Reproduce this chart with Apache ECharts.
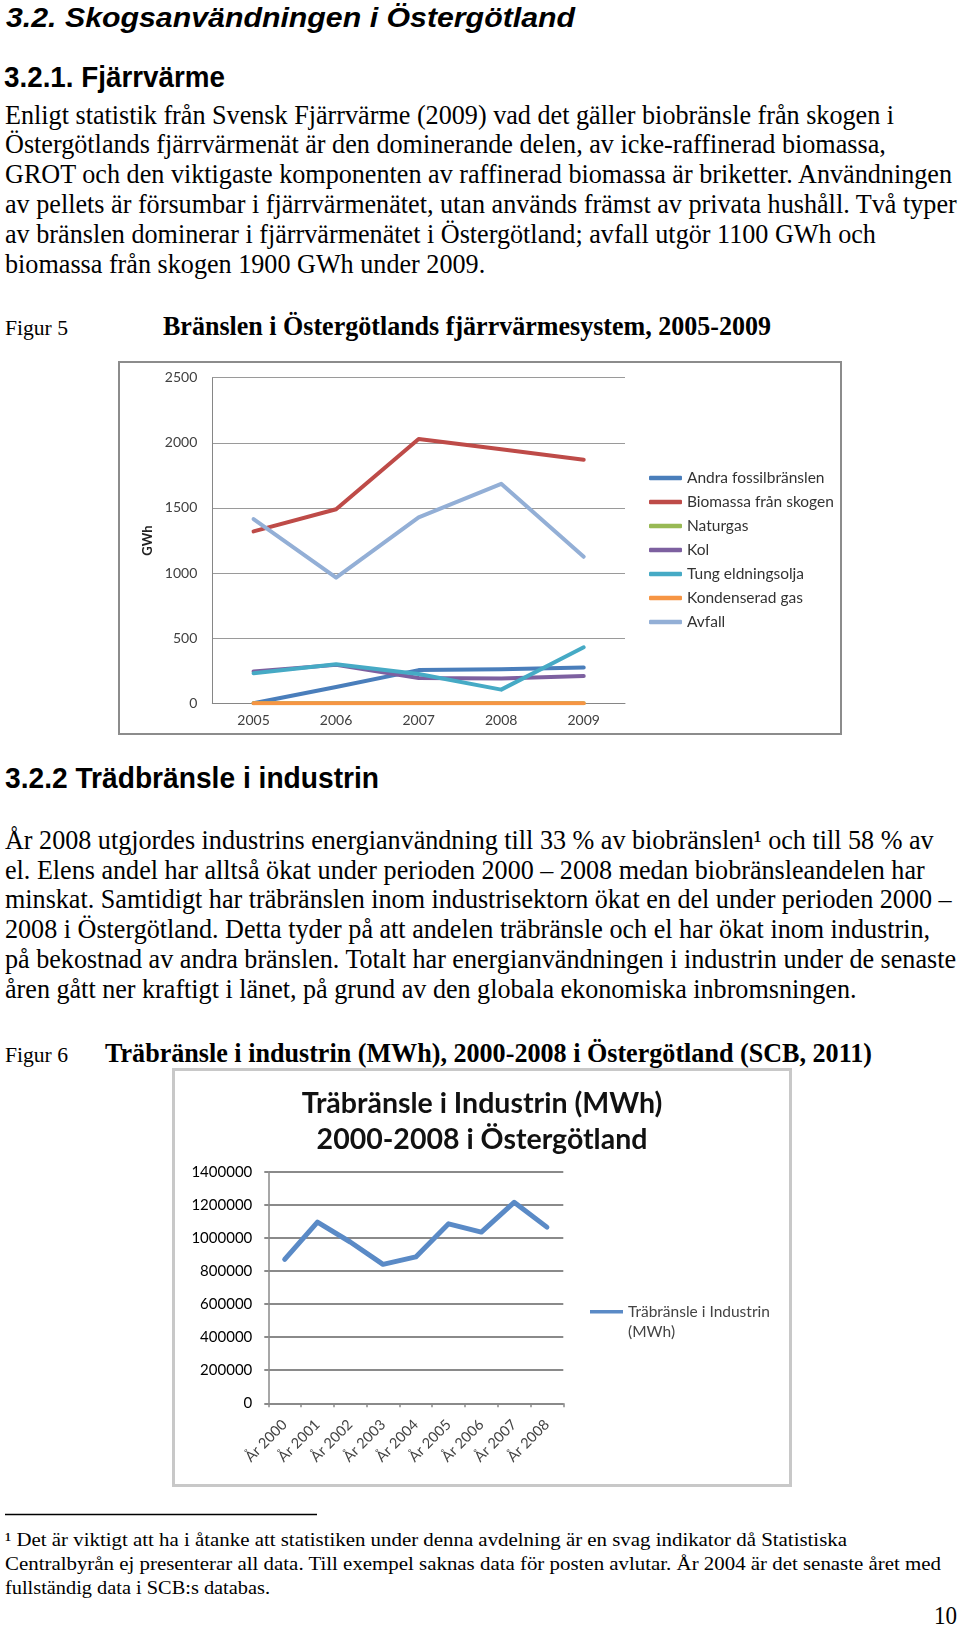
<!DOCTYPE html>
<html><head><meta charset="utf-8">
<script src="https://cdn.jsdelivr.net/npm/echarts@6/dist/echarts.min.js"></script>
<style>
html,body{margin:0;padding:0;background:#fff;width:960px;height:1628px;overflow:hidden;}
#txt{position:absolute;left:0;top:0;}
#c1{position:absolute;left:118px;top:361px;width:724px;height:374px;}
#f1{position:absolute;left:118px;top:361px;width:724px;height:374px;box-sizing:border-box;border:2px solid #8c8c8c;pointer-events:none;}
#c2{position:absolute;left:172px;top:1068px;width:620px;height:419px;}
#f2{position:absolute;left:172px;top:1068px;width:620px;height:419px;box-sizing:border-box;border:3px solid #c8c8c8;pointer-events:none;}
</style></head>
<body>
<svg id="txt" width="960" height="1628" xmlns="http://www.w3.org/2000/svg"></svg>
<div id="c1"></div><div id="f1"></div>
<div id="c2"></div><div id="f2"></div>
<script>
// ---------- data: figure 5 ----------
const years1 = ['2005','2006','2007','2008','2009'];
const andraFossil = [0, 125, 255, 262, 275];
const biomassa = [1320, 1490, 2030, 1950, 1870];
const naturgas = [0, 0, 0, 0, 0];
const kol = [245, 295, 195, 190, 210];
const tungOlja = [230, 300, 225, 105, 430];
const kondGas = [0, 0, 0, 0, 0];
const avfall = [1415, 965, 1428, 1685, 1125];
const names1 = ['Andra fossilbränslen','Biomassa från skogen','Naturgas','Kol','Tung eldningsolja','Kondenserad gas','Avfall'];
const yTicks1 = [0, 500, 1000, 1500, 2000, 2500];

// ---------- data: figure 6 ----------
const years2 = ['År 2000','År 2001','År 2002','År 2003','År 2004','År 2005','År 2006','År 2007','År 2008'];
const trabransle = [870000, 1095000, 975000, 840000, 885000, 1085000, 1035000, 1215000, 1065000];
const yTicks2 = [0, 200000, 400000, 600000, 800000, 1000000, 1200000, 1400000];

// ---------- page text ----------
const para1 = [
 'Enligt statistik från Svensk Fjärrvärme (2009) vad det gäller biobränsle från skogen i',
 'Östergötlands fjärrvärmenät är den dominerande delen, av icke-raffinerad biomassa,',
 'GROT och den viktigaste komponenten av raffinerad biomassa är briketter. Användningen',
 'av pellets är försumbar i fjärrvärmenätet, utan används främst av privata hushåll. Två typer',
 'av bränslen dominerar i fjärrvärmenätet i Östergötland; avfall utgör 1100 GWh och',
 'biomassa från skogen 1900 GWh under 2009.'
];
const para2 = [
 'År 2008 utgjordes industrins energianvändning till 33 % av biobränslen¹ och till 58 % av',
 'el. Elens andel har alltså ökat under perioden 2000 – 2008 medan biobränsleandelen har',
 'minskat. Samtidigt har träbränslen inom industrisektorn ökat en del under perioden 2000 –',
 '2008 i Östergötland. Detta tyder på att andelen träbränsle och el har ökat inom industrin,',
 'på bekostnad av andra bränslen. Totalt har energianvändningen i industrin under de senaste',
 'åren gått ner kraftigt i länet, på grund av den globala ekonomiska inbromsningen.'
];
const foot = [
 '¹ Det är viktigt att ha i åtanke att statistiken under denna avdelning är en svag indikator då Statistiska',
 'Centralbyrån ej presenterar all data. Till exempel saknas data för posten avlutar. År 2004 är det senaste året med',
 'fullständig data i SCB:s databas.'
];

const NS = 'http://www.w3.org/2000/svg';
const svg = document.getElementById('txt');
const SERIF = "'Liberation Serif','Times New Roman',serif";
const SANS = "'Liberation Sans',Arial,sans-serif";
function addText(str, x, y, size, family, weight, style){
  const t = document.createElementNS(NS,'text');
  t.setAttribute('x', x); t.setAttribute('y', y);
  t.setAttribute('font-size', size); t.setAttribute('font-family', family);
  t.setAttribute('font-weight', weight || 'normal');
  t.setAttribute('font-style', style || 'normal');
  t.setAttribute('fill', '#000');
  t.textContent = str;
  svg.appendChild(t);
  return t;
}
function fitW(t, w){
  t.setAttribute('textLength', w);
  t.setAttribute('lengthAdjust', 'spacingAndGlyphs');
}
function fitGroup(els, refIdx, target){
  const s = target / els[refIdx].getComputedTextLength();
  els.forEach(e => fitW(e, (e.getComputedTextLength() * s).toFixed(1)));
}

fitW(addText('3.2. Skogsanvändningen i Östergötland', 6, 27, 28, SANS, 'bold', 'italic'), 569);
fitW(addText('3.2.1. Fjärrvärme', 4, 87, 30, SANS, 'bold'), 221);
const p1 = para1.map((s,i) => addText(s, 5, 123.5 + i*29.9, 27, SERIF));
fitGroup(p1, 2, 947);
fitW(addText('Figur 5', 5, 335, 21.5, SERIF), 63);
fitW(addText('Bränslen i Östergötlands fjärrvärmesystem, 2005-2009', 163, 335, 28, SERIF, 'bold'), 608);
fitW(addText('3.2.2 Trädbränsle i industrin', 5, 788, 29.5, SANS, 'bold'), 374);
const p2 = para2.map((s,i) => addText(s, 5, 849 + i*29.7, 27, SERIF));
fitGroup(p2, 4, 951);
fitW(addText('Figur 6', 5, 1062, 21.5, SERIF), 63);
fitW(addText('Träbränsle i industrin (MWh), 2000-2008 i Östergötland (SCB, 2011)', 105, 1062, 28, SERIF, 'bold'), 767);
const sep = document.createElementNS(NS,'line');
sep.setAttribute('x1',5); sep.setAttribute('x2',317); sep.setAttribute('y1',1514.5); sep.setAttribute('y2',1514.5);
sep.setAttribute('stroke','#000'); sep.setAttribute('stroke-width',1.3);
svg.appendChild(sep);
const fw = [842, 936, 265];
foot.forEach((s,i) => fitW(addText(s, 5, 1546 + i*24, 19, SERIF), fw[i]));
fitW(addText('10', 934, 1624, 25, SERIF), 23);

// ---------- chart 1 ----------
const colors1 = ['#4a7ebb','#be4b48','#98b954','#7d60a0','#46aac5','#f69544','#93afd6'];
const data1 = [andraFossil, biomassa, naturgas, kol, tungOlja, kondGas, avfall];
const ch1 = echarts.init(document.getElementById('c1'), null, {renderer:'canvas'});
ch1.setOption({
  animation:false,
  color: colors1,
  grid:{left:94.3, top:16.7, width:412.7, height:325.6},
  xAxis:{type:'category', data:years1, boundaryGap:true,
    axisLine:{lineStyle:{color:'#868686'}}, axisTick:{show:false},
    axisLabel:{fontFamily:'Lato', fontSize:14, color:'#404040', margin:10}},
  yAxis:{type:'value', min:yTicks1[0], max:yTicks1[yTicks1.length-1], interval:yTicks1[1]-yTicks1[0],
    name:'GWh', nameLocation:'middle', nameRotate:90, nameGap:48,
    nameTextStyle:{fontFamily:'Lato', fontWeight:'bold', fontSize:13, color:'#222'},
    axisLine:{show:true, lineStyle:{color:'#868686'}}, axisTick:{show:false},
    splitLine:{lineStyle:{color:'#9a9a9a', width:1}},
    axisLabel:{fontFamily:'Lato', fontSize:14, color:'#404040', margin:15, formatter: v => String(v)}},
  legend:{orient:'vertical', left:531, top:109, padding:0, itemWidth:33, itemHeight:4.5, itemGap:8,
    icon:'roundRect', data:names1,
    textStyle:{fontFamily:'Lato', fontSize:15.5, color:'#333', lineHeight:16}},
  series: names1.map((n,i) => ({
    type:'line', name:n, data:data1[i], symbol:'none',
    lineStyle:{width:4, color:colors1[i], cap:'round', join:'round'},
    itemStyle:{color:colors1[i]}
  }))
});

// ---------- chart 2 ----------
const ch2 = echarts.init(document.getElementById('c2'), null, {renderer:'canvas'});
ch2.setOption({
  animation:false,
  title:{text:'Träbränsle i Industrin (MWh)\n2000-2008 i Östergötland', left:'center', top:13,
    textStyle:{fontFamily:'Lato', fontWeight:'bold', fontSize:28.5, lineHeight:36, color:'#111'}},
  grid:{left:96.3, top:103.7, width:295, height:231.6},
  xAxis:{type:'category', data:years2, boundaryGap:true,
    axisLine:{lineStyle:{color:'#8a8a8a', width:1.5}},
    axisTick:{show:true, length:4, lineStyle:{color:'#8a8a8a', width:1.5}},
    axisLabel:{rotate:45, interval:0, fontFamily:'Lato', fontSize:14.5, color:'#444', margin:19}},
  yAxis:{type:'value', min:yTicks2[0], max:yTicks2[yTicks2.length-1], interval:yTicks2[1]-yTicks2[0],
    axisLine:{show:true, lineStyle:{color:'#8a8a8a', width:1.5}},
    axisTick:{show:true, length:4, lineStyle:{color:'#8a8a8a', width:2}},
    splitLine:{lineStyle:{color:'#8a8a8a', width:2}},
    axisLabel:{fontFamily:'Lato', fontSize:15, color:'#000', margin:16, formatter: v => String(v)}},
  legend:{left:418, top:233.7, padding:0, itemWidth:33, itemHeight:40,
    icon:'path://M0,8.3 L33,8.3 L33,11.7 L0,11.7 Z M0,0 L0.01,0 L0.01,0.01 Z M0,39.99 L0.01,39.99 L0.01,40 Z',
    formatter: () => 'Träbränsle i Industrin\n(MWh)',
    textStyle:{fontFamily:'Lato', fontSize:15.5, color:'#444', lineHeight:20}},
  series:[{type:'line', name:'Träbränsle i Industrin (MWh)', data:trabransle, symbol:'none',
    lineStyle:{width:5, color:'#5a8ac6', join:'round', cap:'round'}, itemStyle:{color:'#5a8ac6'}}]
});
</script>
</body></html>
